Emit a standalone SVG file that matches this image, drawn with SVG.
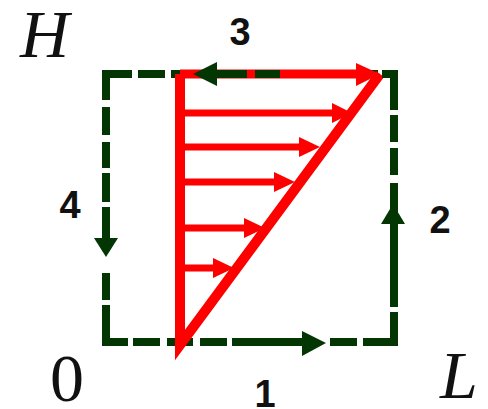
<svg xmlns="http://www.w3.org/2000/svg" width="488" height="409" viewBox="0 0 488 409">
<defs>
<style>
.g{stroke:#033603;stroke-width:8;fill:none}
.gf{fill:#033603}
.r{stroke:#ff0000;fill:none}
.rf{fill:#ff0000}
.num{font-family:"Liberation Sans",Arial,sans-serif;font-weight:bold;font-size:38px;fill:#111;text-anchor:middle}
.math{font-family:"Liberation Serif","Times New Roman",serif;font-size:68px;fill:#111}
</style>
</defs>
<rect width="488" height="409" fill="#fff"/>
<g id="contour">
<path class="g" d="M106 74H132M138 74H165M171 74H198M285 74H312M318 74H345M352 74H378"/>
<path class="g" d="M394 70V110M394 115V142M394 148V175M394 183V307M394 312V346"/>
<path class="g" d="M102 342H128M133 342H160M167 342H193M200 342H227M232 342H316M330 342H357M363 342H398"/>
<path class="g" d="M106 70V100M106 107V135M106 142V168M106 173V202M106 207V240M106 273V300M106 305V346"/>
<polygon class="gf" points="94,238 118,238 106,257"/>
<polygon class="gf" points="381,224 405,224 393,204"/>
<polygon class="gf" points="302,331 302,356 326,343"/>
</g>
<g id="profile">
<polyline class="r" stroke-width="10" stroke-linejoin="miter" stroke-miterlimit="20" points="180,74 180,345 380,74"/>
<g stroke="#ff0000" stroke-width="7">
<line x1="180" y1="74" x2="360" y2="74" stroke-width="9"/>
<line x1="180" y1="113" x2="335" y2="113"/>
<line x1="180" y1="147" x2="305" y2="147"/>
<line x1="180" y1="182" x2="280" y2="182"/>
<line x1="180" y1="228" x2="250" y2="228"/>
<line x1="180" y1="268" x2="218" y2="268"/>
</g>
<polygon class="rf" points="356,63 356,86 380,74"/>
<polygon class="rf" points="332,103 332,123 352,113"/>
<polygon class="rf" points="299,137 299,157 320,147"/>
<polygon class="rf" points="274,172 274,192 295,182"/>
<polygon class="rf" points="244,218 244,238 265,228"/>
<polygon class="rf" points="213,258 213,278 234,268"/>
</g>
<g id="contour-top-overlay">
<path class="g" d="M217 74H247M255 74H280M382 74H398"/>
<polygon class="gf" points="217,62 217,86 193,74"/>
</g>
<g id="labels">
<text class="math" x="20" y="57" font-style="italic">H</text>
<text class="math" x="50" y="401">0</text>
<text class="math" x="440" y="398" font-style="italic">L</text>
<text class="num" x="240" y="45">3</text>
<text class="num" x="70" y="218">4</text>
<text class="num" x="440" y="233">2</text>
<text class="num" x="265" y="407">1</text>
</g>
</svg>
